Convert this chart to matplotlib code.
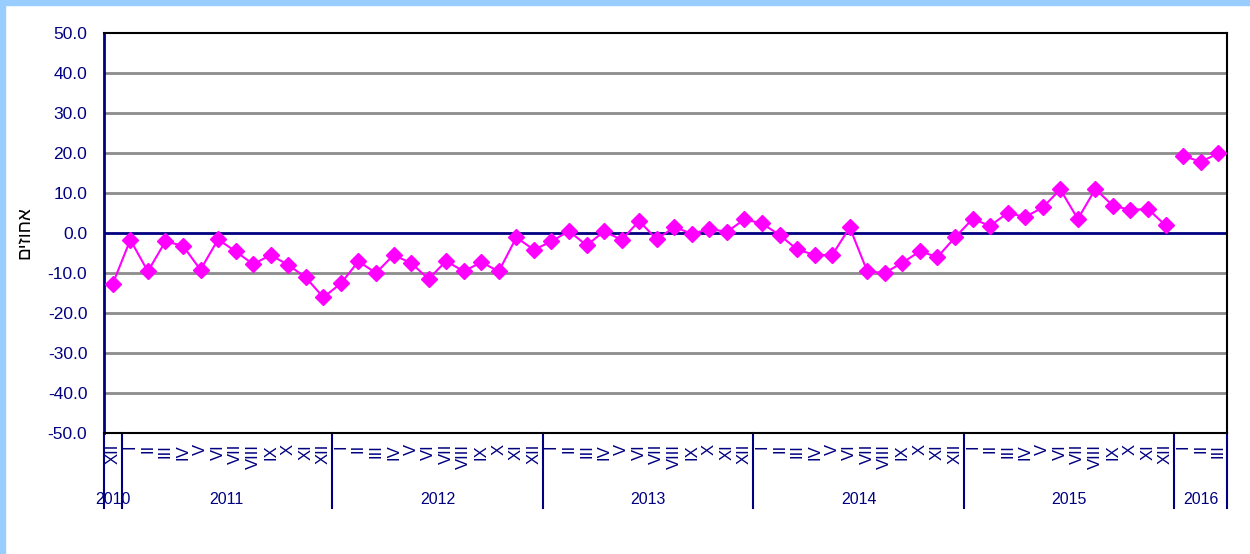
import matplotlib
matplotlib.use('Agg')
import matplotlib.pyplot as plt
import matplotlib.transforms as mtransforms
from matplotlib.patches import Rectangle

plt.rcParams['font.family'] = ['Liberation Sans', 'DejaVu Sans']

# data: monthly values, Dec 2010 - Mar 2016 (percent)
years = ['2010', '2011', '2012', '2013', '2014', '2015', '2016']
months_in_year = [1, 12, 12, 12, 12, 12, 3]
first_month = 12  # series starts in December 2010
roman = ['I', 'II', 'III', 'IV', 'V', 'VI', 'VII', 'VIII', 'IX', 'X', 'XI', 'XII']

# Dec 2010 .. Dec 2015
values = [-12.7,
          -1.7, -9.6, -2.1, -3.2, -9.2, -1.6, -4.6, -7.8, -5.5, -8.0, -11.1, -16.1,
          -12.6, -7.1, -10.0, -5.5, -7.5, -11.5, -7.0, -9.6, -7.3, -9.6, -1.1, -4.2,
          -2.1, 0.5, -3.1, 0.4, -1.7, 3.0, -1.6, 1.5, -0.2, 1.0, 0.3, 3.4,
          2.4, -0.5, -4.1, -5.5, -5.5, 1.4, -9.6, -10.0, -7.4, -4.6, -6.0, -1.1,
          3.5, 1.8, 5.0, 4.0, 6.4, 10.9, 3.5, 11.0, 6.8, 5.8, 6.0, 1.9]
# Jan 2016 .. Mar 2016 (not joined to the line above)
values_2016 = [19.3, 17.8, 19.9]

ylabel = 'אחוזים'
yticks = [-50, -40, -30, -20, -10, 0, 10, 20, 30, 40, 50]

navy = '#000080'
magenta = '#ff00ff'

# month labels for every category
month_labels = []
m = first_month
for n in months_in_year:
    for i in range(n):
        month_labels.append(roman[m - 1])
        m = m % 12 + 1
n_cat = len(month_labels)

fig = plt.figure(figsize=(12.5, 5.54), dpi=100)
fig.patches.append(Rectangle((0, 1 - 5 / 554), 1, 5 / 554, transform=fig.transFigure,
                             color='#99ccff', zorder=0))
fig.patches.append(Rectangle((0, 0), 5 / 1250, 1, transform=fig.transFigure,
                             color='#99ccff', zorder=0))

ax = fig.add_axes([104 / 1250, 1 - 433 / 554, (1227 - 104) / 1250, 400 / 554])

for y in yticks:
    if y == 0 or y in (-50, 50):
        continue
    ax.axhline(y, color='#8c8c8c', lw=2, zorder=1)
ax.axhline(0, color=navy, lw=2, zorder=2)

x1 = list(range(len(values)))
x2 = list(range(len(values), len(values) + len(values_2016)))
ax.plot(x1, values, color=magenta, lw=1.5, marker='D', ms=8.5, zorder=3)
ax.plot(x2, values_2016, color=magenta, lw=1.5, marker='D', ms=8.5, zorder=3)

ax.set_xlim(-0.5, n_cat - 0.5)
ax.set_ylim(-50, 50)
ax.set_yticks(yticks)
ax.set_yticklabels(['%.1f' % v for v in yticks], color=navy, fontsize=12.5)
ax.tick_params(axis='y', length=0, pad=12)

ax.set_xticks(range(n_cat))
ax.set_xticklabels(month_labels, rotation=90, color=navy, fontsize=12, va='top')
ax.tick_params(axis='x', length=0, pad=8)

ax.spines['left'].set_color(navy)
ax.spines['left'].set_linewidth(2)
for s in ['top', 'right', 'bottom']:
    ax.spines[s].set_color('black')
    ax.spines[s].set_linewidth(1.5)

ax.set_ylabel(ylabel[::-1], fontsize=13.5, color='black', labelpad=10)

# year separators and year labels below the axis
trans = mtransforms.blended_transform_factory(ax.transData, ax.transAxes)
start = 0
for yr, n in zip(years, months_in_year):
    ax.plot([start - 0.5, start - 0.5], [0, -0.1875], color=navy, lw=1.5,
            transform=trans, clip_on=False)
    ax.text(start + (n - 1) / 2, -0.166, yr, transform=trans, ha='center',
            va='center', color=navy, fontsize=11.5)
    start += n
ax.plot([start - 0.5, start - 0.5], [0, -0.1875], color=navy, lw=1.5,
        transform=trans, clip_on=False)

fig.savefig('out.png', dpi=100)
